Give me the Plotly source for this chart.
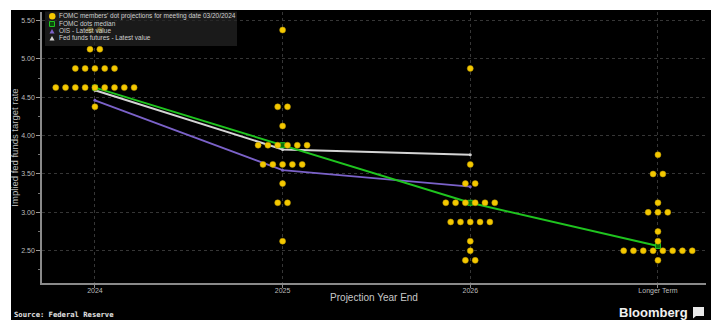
import plotly.graph_objects as go

# ---------------- data ----------------
categories = ["2024", "2025", "2026", "Longer Term"]

dot_rates_2024 = [5.375, 5.125, 4.875, 4.625, 4.375]
dot_counts_2024 = [2, 2, 5, 9, 1]
dot_rates_2025 = [5.375, 4.375, 4.125, 3.875, 3.625, 3.375, 3.125, 2.625]
dot_counts_2025 = [1, 2, 1, 6, 5, 1, 2, 1]
dot_rates_2026 = [4.875, 3.625, 3.375, 3.125, 2.875, 2.625, 2.5, 2.375]
dot_counts_2026 = [1, 1, 2, 6, 5, 1, 1, 2]
dot_rates_lt = [3.75, 3.5, 3.125, 3.0, 2.75, 2.625, 2.5, 2.375]
dot_counts_lt = [1, 2, 1, 3, 1, 1, 8, 1]

median_values = [4.625, 3.875, 3.125, 2.5625]
ois_values = [4.46, 3.55, 3.335]
futures_values = [4.59, 3.82, 3.75]

y_tick_values = [2.5, 3.0, 3.5, 4.0, 4.5, 5.0, 5.5]

# ---------------- geometry helpers ----------------
W, H = 711, 320
L, R, T, B = 42, 706, 12, 283


def px(x):
    return (x - L) / (R - L)


def py(y):
    return (B - y) / (B - T)


DOT_STEP = 0.0522
groups = [
    (dot_rates_2024, dot_counts_2024),
    (dot_rates_2025, dot_counts_2025),
    (dot_rates_2026, dot_counts_2026),
    (dot_rates_lt, dot_counts_lt),
]
dot_x, dot_y = [], []
for i, (rates, counts) in enumerate(groups):
    for r, c in zip(rates, counts):
        for k in range(c):
            dot_x.append(i + (k - (c - 1) / 2) * DOT_STEP)
            dot_y.append(r)

cat_x = list(range(len(categories)))

fig = go.Figure()

fig.add_trace(go.Scatter(
    x=cat_x[:len(futures_values)], y=futures_values, mode="lines+markers",
    line=dict(color="#d4d4d4", width=2), marker=dict(size=3, color="#d4d4d4"),
    name="Fed funds futures - Latest value", showlegend=False))
fig.add_trace(go.Scatter(
    x=cat_x[:len(ois_values)], y=ois_values, mode="lines+markers",
    line=dict(color="#7b62c9", width=1.8), marker=dict(size=3, color="#7b62c9"),
    name="OIS - Latest value", showlegend=False))
fig.add_trace(go.Scatter(
    x=cat_x, y=median_values, mode="lines+markers",
    line=dict(color="#1fc41f", width=2),
    marker=dict(size=5, symbol="square", color="#0c6e0c", line=dict(color="#1fc41f", width=1)),
    name="FOMC dots median", showlegend=False))
fig.add_trace(go.Scatter(
    x=dot_x, y=dot_y, mode="markers",
    marker=dict(size=6, color="#f4c800", line=dict(color="#b89600", width=0.5)),
    name="FOMC members' dot projections for meeting date 03/20/2024", showlegend=False))

grid = dict(showgrid=True, gridcolor="#363636", gridwidth=1, griddash="dot", zeroline=False)
axis_font = "Liberation Sans Narrow, Liberation Sans, Arial"

fig.update_xaxes(
    range=[-0.282, 3.256], tickmode="array", tickvals=cat_x, ticktext=categories,
    showline=True, linecolor="#8a8a8a", linewidth=1.5,
    ticks="outside", ticklen=3, tickcolor="#8a8a8a", ticklabelstandoff=-3,
    tickfont=dict(family=axis_font, size=7, color="#bdbdbd"),
    title=dict(text="Projection Year End", standoff=0,
               font=dict(family=axis_font, size=10, color="#c8c8c8")),
    **grid)
fig.update_yaxes(
    range=[2.08, 5.61], tickmode="array", tickvals=y_tick_values,
    ticktext=[f"{v:.2f}" for v in y_tick_values],
    showline=True, linecolor="#8a8a8a", linewidth=1.5,
    ticks="outside", ticklen=4, tickcolor="#9a9a9a",
    minor=dict(tickmode="linear", tick0=2.25, dtick=0.5, ticks="outside", ticklen=2,
               tickcolor="#777", showgrid=False),
    tickfont=dict(family=axis_font, size=7, color="#bdbdbd"),
    title=dict(text="Implied fed funds target rate", standoff=1,
               font=dict(family=axis_font, size=9.5, color="#bdbdbd")),
    **grid)

shapes = [
    # white border strips of the screenshot
    dict(type="rect", xref="paper", yref="paper", x0=px(0), x1=px(11), y0=py(320), y1=py(0),
         fillcolor="white", line=dict(width=0), layer="above"),
    dict(type="rect", xref="paper", yref="paper", x0=px(0), x1=px(711), y0=py(10), y1=py(0),
         fillcolor="white", line=dict(width=0), layer="above"),
    # legend box
    dict(type="rect", xref="paper", yref="paper", x0=px(45), x1=px(237), y0=py(46), y1=py(11.5),
         fillcolor="rgba(36,36,36,0.72)", line=dict(width=0), layer="above"),
    # legend markers
    dict(type="circle", xref="paper", yref="paper", x0=px(49), x1=px(55.5), y0=py(19.5), y1=py(13),
         fillcolor="#f4c800", line=dict(width=0), layer="above"),
    dict(type="rect", xref="paper", yref="paper", x0=px(49.5), x1=px(54.5), y0=py(26.5), y1=py(21.5),
         fillcolor="#0c4a0c", line=dict(color="#1fc41f", width=1), layer="above"),
    dict(type="path", xref="paper", yref="paper",
         path=f"M {px(49.5)},{py(33.5)} L {px(54.5)},{py(33.5)} L {px(52)},{py(29)} Z",
         fillcolor="#7b62c9", line=dict(width=0), layer="above"),
    dict(type="path", xref="paper", yref="paper",
         path=f"M {px(49.5)},{py(40.5)} L {px(54.5)},{py(40.5)} L {px(52)},{py(36)} Z",
         fillcolor="#d4d4d4", line=dict(width=0), layer="above"),
    # Bloomberg icon
    dict(type="rect", xref="paper", yref="paper", x0=px(693), x1=px(704), y0=py(316), y1=py(307),
         fillcolor="#e8e8e8", line=dict(width=0), layer="above"),
    dict(type="path", xref="paper", yref="paper",
         path=f"M {px(693)},{py(316)} L {px(696)},{py(316)} L {px(693)},{py(318.5)} Z",
         fillcolor="#e8e8e8", line=dict(width=0), layer="above"),
]

legend_font = dict(family=axis_font, size=6.5, color="#cfcfcf")
legend_labels = [
    "FOMC members' dot projections for meeting date 03/20/2024",
    "FOMC dots median",
    "OIS - Latest value",
    "Fed funds futures - Latest value",
]
annotations = []
for j, lab in enumerate(legend_labels):
    annotations.append(dict(text=lab, xref="paper", yref="paper", x=px(57), y=py(16.3 + 7.2 * j),
                            xanchor="left", yanchor="middle", showarrow=False, font=legend_font))
annotations.append(dict(text="<b>Source: Federal Reserve</b>", xref="paper", yref="paper",
                        x=px(12), y=py(314), xanchor="left", yanchor="middle", showarrow=False,
                        font=dict(family="DejaVu Sans Mono", size=7.2, color="#e0e0e0")))
annotations.append(dict(text="<b>Bloomberg</b>", xref="paper", yref="paper",
                        x=px(617), y=py(312.5), xanchor="left", yanchor="middle", showarrow=False,
                        font=dict(family="Liberation Sans, Arial", size=13, color="#f0f0f0")))

fig.update_layout(
    width=W, height=H,
    margin=dict(l=L, r=W - R, t=T, b=H - B, pad=0),
    paper_bgcolor="black", plot_bgcolor="black",
    showlegend=False, shapes=shapes, annotations=annotations,
)

fig.write_html(
    "out.html",
    config={"displayModeBar": False},
    post_script="document.body.style.margin='0';document.body.style.padding='0';"
                "document.body.style.overflow='hidden';",
)
